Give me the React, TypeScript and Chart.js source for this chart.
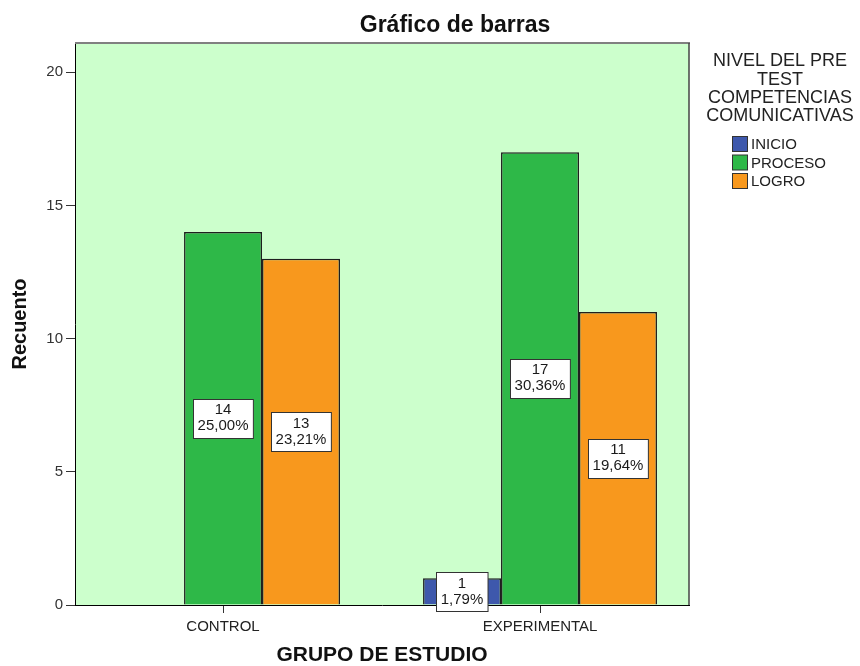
import React, { useEffect, useRef } from 'react';
import { Chart, registerables } from 'chart.js';

Chart.register(...registerables);

const categories = ['CONTROL', 'EXPERIMENTAL'];
const seriesNames = ['INICIO', 'PROCESO', 'LOGRO'];
const inicio = [0, 1];
const proceso = [14, 17];
const logro = [13, 11];
const seriesColors = ['#3E58AC', '#2EB848', '#F8981D'];
const yTicks = [0, 5, 10, 15, 20];
const legendTitle = ['NIVEL DEL PRE', 'TEST', 'COMPETENCIAS', 'COMUNICATIVAS'];
const chartTitle = 'Gráfico de barras';
const xTitle = 'GRUPO DE ESTUDIO';
const yTitle = 'Recuento';

const FONT = "'Liberation Sans', Arial, Helvetica, sans-serif";
const seriesValues = [inicio, proceso, logro];
const total = seriesValues.reduce((s, arr) => s + arr.reduce((a, b) => a + b, 0), 0);

const fmtPct = (v: number) => ((v / total) * 100).toFixed(2).replace('.', ',') + '%';

const deco = {
  id: 'deco',
  beforeDraw(chart: any) {
    const { ctx, chartArea: a } = chart;
    ctx.save();
    ctx.fillStyle = '#CCFFCC';
    ctx.fillRect(a.left, a.top, a.right - a.left, a.bottom - a.top);
    ctx.restore();
  },
  afterDatasetsDraw(chart: any) {
    const { ctx } = chart;
    ctx.save();
    ctx.font = `15px ${FONT}`;
    chart.data.datasets.forEach((ds: any, di: number) => {
      const meta = chart.getDatasetMeta(di);
      meta.data.forEach((el: any, i: number) => {
        const v = seriesValues[di][i];
        if (!v) return;
        const p = el.getProps(['x', 'y', 'base'], true);
        const cx = p.x;
        const cy = (p.y + p.base) / 2;
        const l1 = String(v);
        const l2 = fmtPct(v);
        const w = Math.max(ctx.measureText(l1).width, ctx.measureText(l2).width) + 9;
        const h = 39;
        const bx = Math.round(cx - w / 2) + 0.5;
        const by = Math.round(cy - h / 2) + 0.5;
        ctx.fillStyle = '#FFFFFF';
        ctx.fillRect(bx, by, w, h);
        ctx.strokeStyle = '#333333';
        ctx.lineWidth = 1;
        ctx.strokeRect(bx, by, w, h);
        ctx.fillStyle = '#1a1a1a';
        ctx.textAlign = 'center';
        ctx.textBaseline = 'middle';
        ctx.fillText(l1, cx, cy - 8);
        ctx.fillText(l2, cx, cy + 8);
      });
    });
    ctx.restore();
  },
  afterDraw(chart: any) {
    const { ctx, chartArea: a } = chart;
    ctx.save();
    // plot frame top / right
    ctx.strokeStyle = '#808080';
    ctx.lineWidth = 2;
    ctx.beginPath();
    ctx.moveTo(a.left, a.top);
    ctx.lineTo(a.right + 1, a.top);
    ctx.stroke();
    ctx.strokeStyle = '#444444';
    ctx.lineWidth = 1.5;
    ctx.beginPath();
    ctx.moveTo(a.right, a.top);
    ctx.lineTo(a.right, a.bottom);
    ctx.stroke();

    // title
    ctx.fillStyle = '#111111';
    ctx.font = `bold 23px ${FONT}`;
    ctx.textAlign = 'center';
    ctx.textBaseline = 'middle';
    ctx.fillText(chartTitle, 455, 26);

    // legend title
    ctx.font = `18px ${FONT}`;
    ctx.fillStyle = '#222222';
    legendTitle.forEach((t, i) => {
      ctx.fillText(t, 780, 61.5 + i * 18.2);
    });

    // legend items
    ctx.font = `15px ${FONT}`;
    ctx.textAlign = 'left';
    chart.data.datasets.forEach((ds: any, i: number) => {
      const cy = 144 + i * 18.5;
      ctx.fillStyle = ds.backgroundColor;
      ctx.fillRect(732.5, cy - 7.5, 15, 15);
      ctx.strokeStyle = '#333333';
      ctx.lineWidth = 1;
      ctx.strokeRect(732.5, cy - 7.5, 15, 15);
      ctx.fillStyle = '#222222';
      ctx.fillText(ds.label, 751, cy + 1);
    });
    ctx.restore();
  },
};

export default function App() {
  const ref = useRef<HTMLCanvasElement | null>(null);

  useEffect(() => {
    document.body.style.margin = '0';
    const canvas = ref.current;
    if (!canvas) return;
    const datasets = seriesNames.map((name, si) => ({
      label: name,
      data: categories.map((_, ci) => ({ x: ci, y: seriesValues[si][ci] === 0 ? null : seriesValues[si][ci] })),
      backgroundColor: seriesColors[si],
      borderColor: '#1f1f1f',
      borderWidth: 1.5,
      categoryPercentage: 0.738,
      barPercentage: 1,
    }));

    const chart = new Chart(canvas, {
      type: 'bar',
      data: { datasets } as any,
      options: {
        responsive: false,
        animation: false,
        devicePixelRatio: 1,
        layout: { padding: { top: 43, right: 171, bottom: 0, left: 0 } },
        plugins: {
          legend: { display: false },
          title: { display: false },
          tooltip: { enabled: false },
        },
        scales: {
          x: {
            type: 'linear',
            offset: false,
            min: -0.467,
            max: 1.47,
            afterBuildTicks: (scale: any) => {
              scale.ticks = categories.map((_, i) => ({ value: i }));
            },
            afterFit: (scale: any) => {
              scale.height = 61;
            },
            grid: { offset: false, drawOnChartArea: false, drawTicks: true, tickLength: 8, color: '#333333' },
            border: { display: true, color: '#000000', width: 1 },
            ticks: {
              callback: (v: any) => categories[v] ?? '',
              font: { family: FONT, size: 15 },
              color: '#222222',
              padding: 5,
              autoSkip: false,
              maxRotation: 0,
            },
            title: {
              display: true,
              text: xTitle,
              font: { family: FONT, size: 21, weight: 'bold', lineHeight: 1 },
              color: '#111111',
              padding: { top: 0, bottom: 0 },
            },
          },
          y: {
            type: 'linear',
            min: 0,
            max: 21.1,
            afterBuildTicks: (scale: any) => {
              scale.ticks = yTicks.map((v) => ({ value: v }));
            },
            afterFit: (scale: any) => {
              scale.width = 75;
            },
            grid: { drawOnChartArea: false, drawTicks: true, tickLength: 9, color: '#333333' },
            border: { display: true, color: '#000000', width: 1 },
            ticks: {
              font: { family: FONT, size: 15 },
              color: '#333333',
              padding: 3,
            },
            title: {
              display: true,
              text: yTitle,
              font: { family: FONT, size: 20, weight: 'bold' },
              color: '#111111',
              padding: { top: 8, bottom: 0 },
            },
          },
        },
      } as any,
      plugins: [deco],
    });
    return () => chart.destroy();
  }, []);

  return (
    <div style={{ width: 860, height: 666, background: '#ffffff' }}>
      <canvas ref={ref} width={860} height={666} style={{ display: 'block' }} />
    </div>
  );
}
